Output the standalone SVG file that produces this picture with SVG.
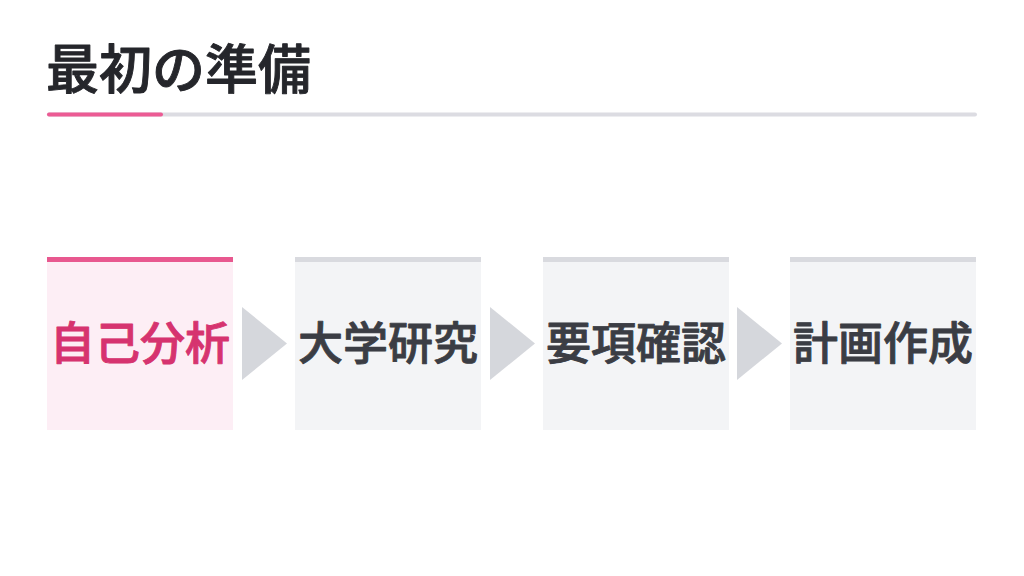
<svg xmlns="http://www.w3.org/2000/svg" width="1024" height="576" viewBox="0 0 1024 576">
<style>
.t{font-family:"Noto Sans CJK JP","Noto Sans",sans-serif;font-weight:500;stroke-width:0.9px;stroke-linejoin:round}
.title{font-size:53px;fill:#25262b;stroke:#25262b}
.lbl{font-size:45px;text-anchor:middle}
.dk{fill:#3b3d44;stroke:#3b3d44}
.pk{fill:#d6336f;stroke:#d6336f}
.box{fill:#f3f4f6}
.bar{fill:#d9dadf}
.arr{fill:#d5d7dc}
</style>
<rect width="1024" height="576" fill="#ffffff"/>
<g id="title">
<text class="t title" x="46" y="89">最初の準備</text>
<line x1="49" y1="114.5" x2="975" y2="114.5" stroke="#dcdce2" stroke-width="4" stroke-linecap="round"/>
<line x1="49" y1="114.5" x2="161" y2="114.5" stroke="#ec5b94" stroke-width="4" stroke-linecap="round"/>
</g>
<g id="connectors">
<polygon class="arr" points="242,307 287,343.5 242,380"/>
<polygon class="arr" points="490,307 535,343.5 490,380"/>
<polygon class="arr" points="737,307 782,343.5 737,380"/>
</g>
<g id="step1">
<rect x="47" y="257" width="186" height="173" fill="#fdeef5"/>
<rect x="47" y="257" width="186" height="5" fill="#e8588f"/>
<text class="t lbl pk" x="140" y="360">自己分析</text>
</g>
<g id="step2">
<rect class="box" x="295" y="257" width="186" height="173"/>
<rect class="bar" x="295" y="257" width="186" height="5"/>
<text class="t lbl dk" x="388" y="360">大学研究</text>
</g>
<g id="step3">
<rect class="box" x="543" y="257" width="186" height="173"/>
<rect class="bar" x="543" y="257" width="186" height="5"/>
<text class="t lbl dk" x="636" y="360">要項確認</text>
</g>
<g id="step4">
<rect class="box" x="790" y="257" width="186" height="173"/>
<rect class="bar" x="790" y="257" width="186" height="5"/>
<text class="t lbl dk" x="883" y="360">計画作成</text>
</g>
</svg>
